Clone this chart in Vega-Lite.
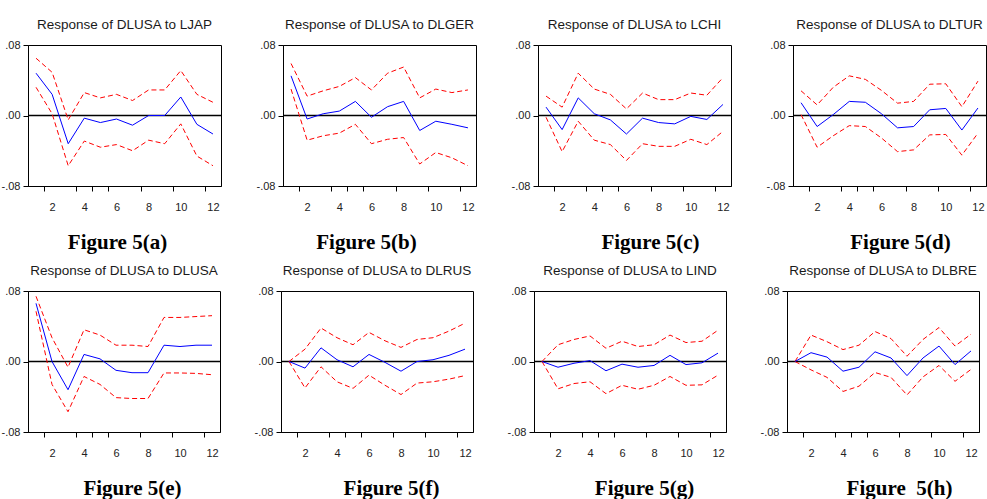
{
  "$schema": "https://vega.github.io/schema/vega-lite/v6.json",
  "background": "white",
  "padding": {"left": -4, "top": 17, "right": 0, "bottom": 0},
  "spacing": 10,
  "datasets": {
    "irf": [
      {"p":"a","t":1,"r":0.048,"hi":0.065,"lo":0.032},
      {"p":"a","t":2,"r":0.024,"hi":0.049,"lo":0.002},
      {"p":"a","t":3,"r":-0.032,"hi":-0.005,"lo":-0.057},
      {"p":"a","t":4,"r":-0.003,"hi":0.026,"lo":-0.029},
      {"p":"a","t":5,"r":-0.008,"hi":0.020,"lo":-0.036},
      {"p":"a","t":6,"r":-0.004,"hi":0.024,"lo":-0.033},
      {"p":"a","t":7,"r":-0.011,"hi":0.017,"lo":-0.040},
      {"p":"a","t":8,"r":0.0,"hi":0.029,"lo":-0.028},
      {"p":"a","t":9,"r":0.0,"hi":0.029,"lo":-0.032},
      {"p":"a","t":10,"r":0.021,"hi":0.051,"lo":-0.0095},
      {"p":"a","t":11,"r":-0.010,"hi":0.024,"lo":-0.046},
      {"p":"a","t":12,"r":-0.021,"hi":0.015,"lo":-0.057},

      {"p":"b","t":1,"r":0.045,"hi":0.059,"lo":0.030},
      {"p":"b","t":2,"r":-0.004,"hi":0.022,"lo":-0.028},
      {"p":"b","t":3,"r":0.002,"hi":0.028,"lo":-0.023},
      {"p":"b","t":4,"r":0.005,"hi":0.033,"lo":-0.020},
      {"p":"b","t":5,"r":0.016,"hi":0.043,"lo":-0.010},
      {"p":"b","t":6,"r":-0.002,"hi":0.029,"lo":-0.032},
      {"p":"b","t":7,"r":0.010,"hi":0.048,"lo":-0.027},
      {"p":"b","t":8,"r":0.016,"hi":0.055,"lo":-0.025},
      {"p":"b","t":9,"r":-0.017,"hi":0.020,"lo":-0.055},
      {"p":"b","t":10,"r":-0.0065,"hi":0.030,"lo":-0.042},
      {"p":"b","t":11,"r":-0.010,"hi":0.026,"lo":-0.048},
      {"p":"b","t":12,"r":-0.014,"hi":0.029,"lo":-0.057},

      {"p":"c","t":1,"r":0.0095,"hi":0.022,"lo":-0.002},
      {"p":"c","t":2,"r":-0.016,"hi":0.0095,"lo":-0.041},
      {"p":"c","t":3,"r":0.020,"hi":0.048,"lo":-0.0065},
      {"p":"c","t":4,"r":0.002,"hi":0.030,"lo":-0.028},
      {"p":"c","t":5,"r":-0.005,"hi":0.024,"lo":-0.033},
      {"p":"c","t":6,"r":-0.021,"hi":0.0075,"lo":-0.051},
      {"p":"c","t":7,"r":-0.003,"hi":0.0255,"lo":-0.032},
      {"p":"c","t":8,"r":-0.008,"hi":0.018,"lo":-0.035},
      {"p":"c","t":9,"r":-0.0095,"hi":0.018,"lo":-0.035},
      {"p":"c","t":10,"r":-0.001,"hi":0.0255,"lo":-0.027},
      {"p":"c","t":11,"r":-0.0045,"hi":0.023,"lo":-0.033},
      {"p":"c","t":12,"r":0.0125,"hi":0.043,"lo":-0.018},

      {"p":"d","t":1,"r":0.0145,"hi":0.028,"lo":0.001},
      {"p":"d","t":2,"r":-0.0125,"hi":0.012,"lo":-0.036},
      {"p":"d","t":3,"r":0.001,"hi":0.032,"lo":-0.023},
      {"p":"d","t":4,"r":0.016,"hi":0.045,"lo":-0.0115},
      {"p":"d","t":5,"r":0.015,"hi":0.041,"lo":-0.0125},
      {"p":"d","t":6,"r":0.002,"hi":0.0285,"lo":-0.0255},
      {"p":"d","t":7,"r":-0.014,"hi":0.014,"lo":-0.041},
      {"p":"d","t":8,"r":-0.0125,"hi":0.016,"lo":-0.039},
      {"p":"d","t":9,"r":0.0065,"hi":0.0355,"lo":-0.022},
      {"p":"d","t":10,"r":0.008,"hi":0.036,"lo":-0.0215},
      {"p":"d","t":11,"r":-0.0165,"hi":0.010,"lo":-0.045},
      {"p":"d","t":12,"r":0.0085,"hi":0.039,"lo":-0.020},

      {"p":"e","t":1,"r":0.066,"hi":0.074,"lo":0.057},
      {"p":"e","t":2,"r":0.0,"hi":0.027,"lo":-0.026},
      {"p":"e","t":3,"r":-0.032,"hi":-0.0065,"lo":-0.057},
      {"p":"e","t":4,"r":0.008,"hi":0.036,"lo":-0.017},
      {"p":"e","t":5,"r":0.003,"hi":0.030,"lo":-0.026},
      {"p":"e","t":6,"r":-0.010,"hi":0.0185,"lo":-0.041},
      {"p":"e","t":7,"r":-0.0127,"hi":0.0185,"lo":-0.042},
      {"p":"e","t":8,"r":-0.0127,"hi":0.017,"lo":-0.042},
      {"p":"e","t":9,"r":0.0185,"hi":0.050,"lo":-0.013},
      {"p":"e","t":10,"r":0.017,"hi":0.050,"lo":-0.013},
      {"p":"e","t":11,"r":0.0185,"hi":0.051,"lo":-0.0135},
      {"p":"e","t":12,"r":0.0185,"hi":0.052,"lo":-0.015},

      {"p":"f","t":1,"r":0.0,"hi":0.0,"lo":0.0},
      {"p":"f","t":2,"r":-0.0075,"hi":0.014,"lo":-0.030},
      {"p":"f","t":3,"r":0.0155,"hi":0.038,"lo":-0.006},
      {"p":"f","t":4,"r":0.002,"hi":0.027,"lo":-0.023},
      {"p":"f","t":5,"r":-0.006,"hi":0.019,"lo":-0.0305},
      {"p":"f","t":6,"r":0.008,"hi":0.033,"lo":-0.0155},
      {"p":"f","t":7,"r":-0.001,"hi":0.0235,"lo":-0.027},
      {"p":"f","t":8,"r":-0.011,"hi":0.016,"lo":-0.0375},
      {"p":"f","t":9,"r":0.0,"hi":0.025,"lo":-0.0245},
      {"p":"f","t":10,"r":0.002,"hi":0.027,"lo":-0.023},
      {"p":"f","t":11,"r":0.007,"hi":0.0345,"lo":-0.020},
      {"p":"f","t":12,"r":0.014,"hi":0.0435,"lo":-0.016},

      {"p":"g","t":1,"r":0.0,"hi":0.0,"lo":0.0},
      {"p":"g","t":2,"r":-0.0065,"hi":0.019,"lo":-0.031},
      {"p":"g","t":3,"r":-0.002,"hi":0.025,"lo":-0.025},
      {"p":"g","t":4,"r":0.001,"hi":0.029,"lo":-0.023},
      {"p":"g","t":5,"r":-0.0105,"hi":0.015,"lo":-0.0365},
      {"p":"g","t":6,"r":-0.003,"hi":0.023,"lo":-0.027},
      {"p":"g","t":7,"r":-0.0065,"hi":0.017,"lo":-0.0315},
      {"p":"g","t":8,"r":-0.0045,"hi":0.019,"lo":-0.027},
      {"p":"g","t":9,"r":0.007,"hi":0.030,"lo":-0.017},
      {"p":"g","t":10,"r":-0.0035,"hi":0.0215,"lo":-0.027},
      {"p":"g","t":11,"r":-0.0015,"hi":0.023,"lo":-0.0265},
      {"p":"g","t":12,"r":0.0095,"hi":0.0355,"lo":-0.0155},

      {"p":"h","t":1,"r":0.0,"hi":0.0,"lo":0.0},
      {"p":"h","t":2,"r":0.010,"hi":0.030,"lo":-0.0095},
      {"p":"h","t":3,"r":0.005,"hi":0.0225,"lo":-0.018},
      {"p":"h","t":4,"r":-0.011,"hi":0.0135,"lo":-0.034},
      {"p":"h","t":5,"r":-0.0065,"hi":0.0185,"lo":-0.028},
      {"p":"h","t":6,"r":0.011,"hi":0.034,"lo":-0.0125},
      {"p":"h","t":7,"r":0.004,"hi":0.026,"lo":-0.018},
      {"p":"h","t":8,"r":-0.016,"hi":0.006,"lo":-0.038},
      {"p":"h","t":9,"r":0.004,"hi":0.025,"lo":-0.0175},
      {"p":"h","t":10,"r":0.0175,"hi":0.0385,"lo":-0.0045},
      {"p":"h","t":11,"r":-0.0035,"hi":0.0175,"lo":-0.0225},
      {"p":"h","t":12,"r":0.012,"hi":0.031,"lo":-0.009}
    ]
  },
  "config": {
    "view": {"stroke": "black", "strokeWidth": 1},
    "title": {"font": "Liberation Sans", "fontSize": 13.5, "fontWeight": "normal", "color": "#1a1a1a", "baseline": "alphabetic", "offset": 8, "anchor": "middle"},
    "axis": {"grid": false, "domainColor": "black", "domainWidth": 1, "tickColor": "black", "tickWidth": 1, "tickSize": 5, "labelFont": "Liberation Sans", "labelFontSize": 11, "labelColor": "#222222"},
    "axisX": {"labelPadding": 10, "titleFont": "Liberation Serif", "titleFontSize": 21, "titleFontWeight": "bold", "titleColor": "black", "titlePadding": 19},
    "axisY": {"labelPadding": 3, "minExtent": 26, "maxExtent": 26}
  },
  "vconcat": [
    {
      "spacing": 32,
      "hconcat": [
        {
          "width": 193, "height": 141,
          "title": "Response of DLUSA to LJAP",
          "data": {"name": "irf"},
          "transform": [{"filter": "datum.p == 'a'"}],
          "encoding": {"x": {"field": "t", "type": "quantitative", "scale": {"domain": [0.5, 12.5], "nice": false, "zero": false}, "axis": {"values": [1.5,2,3.5,4,4.5,5.5,6,7.5,8,9.5,10,11.5,12], "labelExpr": "datum.value % 1 == 0 ? '' + datum.value : ''", "labelOverlap": false, "tickOpacity": {"condition": {"test": "datum.value % 1 == 0", "value": 0}, "value": 1}, "title": "Figure 5(a)", "titleX": 89}}},
          "layer": [
            {"transform": [{"filter": "datum.t == 1"}], "mark": {"type": "rule", "color": "black", "strokeWidth": 1.5}, "encoding": {"x": {"datum": 0.5, "type": "quantitative"}, "x2": {"datum": 12.5}, "y": {"datum": 0, "type": "quantitative", "scale": {"domain": [-0.08, 0.08], "nice": false, "zero": false}, "axis": {"values": [-0.08,-0.04,0,0.04,0.08], "labelExpr": "(datum.value < 0 ? '-' : '') + '.' + (abs(datum.value) < 0.001 ? '00' : '0' + round(abs(datum.value) * 100))", "title": null}}}},
            {"mark": {"type": "line", "color": "#ff0000", "strokeDash": [5, 3], "strokeWidth": 1}, "encoding": {"y": {"field": "hi", "type": "quantitative", "title": null}}},
            {"mark": {"type": "line", "color": "#ff0000", "strokeDash": [5, 3], "strokeWidth": 1}, "encoding": {"y": {"field": "lo", "type": "quantitative", "title": null}}},
            {"mark": {"type": "line", "color": "#0000ff", "strokeWidth": 1}, "encoding": {"y": {"field": "r", "type": "quantitative", "title": null}}}
          ]
        },
        {
          "width": 193, "height": 141,
          "title": "Response of DLUSA to DLGER",
          "data": {"name": "irf"},
          "transform": [{"filter": "datum.p == 'b'"}],
          "encoding": {"x": {"field": "t", "type": "quantitative", "scale": {"domain": [0.5, 12.5], "nice": false, "zero": false}, "axis": {"values": [1.5,2,3.5,4,4.5,5.5,6,7.5,8,9.5,10,11.5,12], "labelExpr": "datum.value % 1 == 0 ? '' + datum.value : ''", "labelOverlap": false, "tickOpacity": {"condition": {"test": "datum.value % 1 == 0", "value": 0}, "value": 1}, "title": "Figure 5(b)", "titleX": 83}}},
          "layer": [
            {"transform": [{"filter": "datum.t == 1"}], "mark": {"type": "rule", "color": "black", "strokeWidth": 1.5}, "encoding": {"x": {"datum": 0.5, "type": "quantitative"}, "x2": {"datum": 12.5}, "y": {"datum": 0, "type": "quantitative", "scale": {"domain": [-0.08, 0.08], "nice": false, "zero": false}, "axis": {"values": [-0.08,-0.04,0,0.04,0.08], "labelExpr": "(datum.value < 0 ? '-' : '') + '.' + (abs(datum.value) < 0.001 ? '00' : '0' + round(abs(datum.value) * 100))", "title": null}}}},
            {"mark": {"type": "line", "color": "#ff0000", "strokeDash": [5, 3], "strokeWidth": 1}, "encoding": {"y": {"field": "hi", "type": "quantitative", "title": null}}},
            {"mark": {"type": "line", "color": "#ff0000", "strokeDash": [5, 3], "strokeWidth": 1}, "encoding": {"y": {"field": "lo", "type": "quantitative", "title": null}}},
            {"mark": {"type": "line", "color": "#0000ff", "strokeWidth": 1}, "encoding": {"y": {"field": "r", "type": "quantitative", "title": null}}}
          ]
        },
        {
          "width": 193, "height": 141,
          "title": "Response of DLUSA to LCHI",
          "data": {"name": "irf"},
          "transform": [{"filter": "datum.p == 'c'"}],
          "encoding": {"x": {"field": "t", "type": "quantitative", "scale": {"domain": [0.5, 12.5], "nice": false, "zero": false}, "axis": {"values": [1.5,2,3.5,4,4.5,5.5,6,7.5,8,9.5,10,11.5,12], "labelExpr": "datum.value % 1 == 0 ? '' + datum.value : ''", "labelOverlap": false, "tickOpacity": {"condition": {"test": "datum.value % 1 == 0", "value": 0}, "value": 1}, "title": "Figure 5(c)", "titleX": 112}}},
          "layer": [
            {"transform": [{"filter": "datum.t == 1"}], "mark": {"type": "rule", "color": "black", "strokeWidth": 1.5}, "encoding": {"x": {"datum": 0.5, "type": "quantitative"}, "x2": {"datum": 12.5}, "y": {"datum": 0, "type": "quantitative", "scale": {"domain": [-0.08, 0.08], "nice": false, "zero": false}, "axis": {"values": [-0.08,-0.04,0,0.04,0.08], "labelExpr": "(datum.value < 0 ? '-' : '') + '.' + (abs(datum.value) < 0.001 ? '00' : '0' + round(abs(datum.value) * 100))", "title": null}}}},
            {"mark": {"type": "line", "color": "#ff0000", "strokeDash": [5, 3], "strokeWidth": 1}, "encoding": {"y": {"field": "hi", "type": "quantitative", "title": null}}},
            {"mark": {"type": "line", "color": "#ff0000", "strokeDash": [5, 3], "strokeWidth": 1}, "encoding": {"y": {"field": "lo", "type": "quantitative", "title": null}}},
            {"mark": {"type": "line", "color": "#0000ff", "strokeWidth": 1}, "encoding": {"y": {"field": "r", "type": "quantitative", "title": null}}}
          ]
        },
        {
          "width": 193, "height": 141,
          "title": "Response of DLUSA to DLTUR",
          "data": {"name": "irf"},
          "transform": [{"filter": "datum.p == 'd'"}],
          "encoding": {"x": {"field": "t", "type": "quantitative", "scale": {"domain": [0.5, 12.5], "nice": false, "zero": false}, "axis": {"values": [1.5,2,3.5,4,4.5,5.5,6,7.5,8,9.5,10,11.5,12], "labelExpr": "datum.value % 1 == 0 ? '' + datum.value : ''", "labelOverlap": false, "tickOpacity": {"condition": {"test": "datum.value % 1 == 0", "value": 0}, "value": 1}, "title": "Figure 5(d)", "titleX": 107}}},
          "layer": [
            {"transform": [{"filter": "datum.t == 1"}], "mark": {"type": "rule", "color": "black", "strokeWidth": 1.5}, "encoding": {"x": {"datum": 0.5, "type": "quantitative"}, "x2": {"datum": 12.5}, "y": {"datum": 0, "type": "quantitative", "scale": {"domain": [-0.08, 0.08], "nice": false, "zero": false}, "axis": {"values": [-0.08,-0.04,0,0.04,0.08], "labelExpr": "(datum.value < 0 ? '-' : '') + '.' + (abs(datum.value) < 0.001 ? '00' : '0' + round(abs(datum.value) * 100))", "title": null}}}},
            {"mark": {"type": "line", "color": "#ff0000", "strokeDash": [5, 3], "strokeWidth": 1}, "encoding": {"y": {"field": "hi", "type": "quantitative", "title": null}}},
            {"mark": {"type": "line", "color": "#ff0000", "strokeDash": [5, 3], "strokeWidth": 1}, "encoding": {"y": {"field": "lo", "type": "quantitative", "title": null}}},
            {"mark": {"type": "line", "color": "#0000ff", "strokeWidth": 1}, "encoding": {"y": {"field": "r", "type": "quantitative", "title": null}}}
          ]
        }
      ]
    },
    {
      "spacing": 31,
      "hconcat": [
        {
          "width": 192, "height": 141,
          "title": "Response of DLUSA to DLUSA",
          "data": {"name": "irf"},
          "transform": [{"filter": "datum.p == 'e'"}],
          "encoding": {"x": {"field": "t", "type": "quantitative", "scale": {"domain": [0.5, 12.5], "nice": false, "zero": false}, "axis": {"values": [1.5,2,3.5,4,4.5,5.5,6,7.5,8,9.5,10,11.5,12], "labelExpr": "datum.value % 1 == 0 ? '' + datum.value : ''", "labelOverlap": false, "tickOpacity": {"condition": {"test": "datum.value % 1 == 0", "value": 0}, "value": 1}, "title": "Figure 5(e)", "titleX": 104}}},
          "layer": [
            {"transform": [{"filter": "datum.t == 1"}], "mark": {"type": "rule", "color": "black", "strokeWidth": 1.5}, "encoding": {"x": {"datum": 0.5, "type": "quantitative"}, "x2": {"datum": 12.5}, "y": {"datum": 0, "type": "quantitative", "scale": {"domain": [-0.08, 0.08], "nice": false, "zero": false}, "axis": {"values": [-0.08,-0.04,0,0.04,0.08], "labelExpr": "(datum.value < 0 ? '-' : '') + '.' + (abs(datum.value) < 0.001 ? '00' : '0' + round(abs(datum.value) * 100))", "title": null, "minExtent": 31, "maxExtent": 31}}}},
            {"mark": {"type": "line", "color": "#ff0000", "strokeDash": [5, 3], "strokeWidth": 1}, "encoding": {"y": {"field": "hi", "type": "quantitative", "title": null}}},
            {"mark": {"type": "line", "color": "#ff0000", "strokeDash": [5, 3], "strokeWidth": 1}, "encoding": {"y": {"field": "lo", "type": "quantitative", "title": null}}},
            {"mark": {"type": "line", "color": "#0000ff", "strokeWidth": 1}, "encoding": {"y": {"field": "r", "type": "quantitative", "title": null}}}
          ]
        },
        {
          "width": 192, "height": 141,
          "title": "Response of DLUSA to DLRUS",
          "data": {"name": "irf"},
          "transform": [{"filter": "datum.p == 'f'"}],
          "encoding": {"x": {"field": "t", "type": "quantitative", "scale": {"domain": [0.5, 12.5], "nice": false, "zero": false}, "axis": {"values": [1.5,2,3.5,4,4.5,5.5,6,7.5,8,9.5,10,11.5,12], "labelExpr": "datum.value % 1 == 0 ? '' + datum.value : ''", "labelOverlap": false, "tickOpacity": {"condition": {"test": "datum.value % 1 == 0", "value": 0}, "value": 1}, "title": "Figure 5(f)", "titleX": 110}}},
          "layer": [
            {"transform": [{"filter": "datum.t == 1"}], "mark": {"type": "rule", "color": "black", "strokeWidth": 1.5}, "encoding": {"x": {"datum": 0.5, "type": "quantitative"}, "x2": {"datum": 12.5}, "y": {"datum": 0, "type": "quantitative", "scale": {"domain": [-0.08, 0.08], "nice": false, "zero": false}, "axis": {"values": [-0.08,-0.04,0,0.04,0.08], "labelExpr": "(datum.value < 0 ? '-' : '') + '.' + (abs(datum.value) < 0.001 ? '00' : '0' + round(abs(datum.value) * 100))", "title": null}}}},
            {"mark": {"type": "line", "color": "#ff0000", "strokeDash": [5, 3], "strokeWidth": 1}, "encoding": {"y": {"field": "hi", "type": "quantitative", "title": null}}},
            {"mark": {"type": "line", "color": "#ff0000", "strokeDash": [5, 3], "strokeWidth": 1}, "encoding": {"y": {"field": "lo", "type": "quantitative", "title": null}}},
            {"mark": {"type": "line", "color": "#0000ff", "strokeWidth": 1}, "encoding": {"y": {"field": "r", "type": "quantitative", "title": null}}}
          ]
        },
        {
          "width": 192, "height": 141,
          "title": "Response of DLUSA to LIND",
          "data": {"name": "irf"},
          "transform": [{"filter": "datum.p == 'g'"}],
          "encoding": {"x": {"field": "t", "type": "quantitative", "scale": {"domain": [0.5, 12.5], "nice": false, "zero": false}, "axis": {"values": [1.5,2,3.5,4,4.5,5.5,6,7.5,8,9.5,10,11.5,12], "labelExpr": "datum.value % 1 == 0 ? '' + datum.value : ''", "labelOverlap": false, "tickOpacity": {"condition": {"test": "datum.value % 1 == 0", "value": 0}, "value": 1}, "title": "Figure 5(g)", "titleX": 110}}},
          "layer": [
            {"transform": [{"filter": "datum.t == 1"}], "mark": {"type": "rule", "color": "black", "strokeWidth": 1.5}, "encoding": {"x": {"datum": 0.5, "type": "quantitative"}, "x2": {"datum": 12.5}, "y": {"datum": 0, "type": "quantitative", "scale": {"domain": [-0.08, 0.08], "nice": false, "zero": false}, "axis": {"values": [-0.08,-0.04,0,0.04,0.08], "labelExpr": "(datum.value < 0 ? '-' : '') + '.' + (abs(datum.value) < 0.001 ? '00' : '0' + round(abs(datum.value) * 100))", "title": null}}}},
            {"mark": {"type": "line", "color": "#ff0000", "strokeDash": [5, 3], "strokeWidth": 1}, "encoding": {"y": {"field": "hi", "type": "quantitative", "title": null}}},
            {"mark": {"type": "line", "color": "#ff0000", "strokeDash": [5, 3], "strokeWidth": 1}, "encoding": {"y": {"field": "lo", "type": "quantitative", "title": null}}},
            {"mark": {"type": "line", "color": "#0000ff", "strokeWidth": 1}, "encoding": {"y": {"field": "r", "type": "quantitative", "title": null}}}
          ]
        },
        {
          "width": 192, "height": 141,
          "title": "Response of DLUSA to DLBRE",
          "data": {"name": "irf"},
          "transform": [{"filter": "datum.p == 'h'"}],
          "encoding": {"x": {"field": "t", "type": "quantitative", "scale": {"domain": [0.5, 12.5], "nice": false, "zero": false}, "axis": {"values": [1.5,2,3.5,4,4.5,5.5,6,7.5,8,9.5,10,11.5,12], "labelExpr": "datum.value % 1 == 0 ? '' + datum.value : ''", "labelOverlap": false, "tickOpacity": {"condition": {"test": "datum.value % 1 == 0", "value": 0}, "value": 1}, "title": "Figure \u00a05(h)", "titleX": 112}}},
          "layer": [
            {"transform": [{"filter": "datum.t == 1"}], "mark": {"type": "rule", "color": "black", "strokeWidth": 1.5}, "encoding": {"x": {"datum": 0.5, "type": "quantitative"}, "x2": {"datum": 12.5}, "y": {"datum": 0, "type": "quantitative", "scale": {"domain": [-0.08, 0.08], "nice": false, "zero": false}, "axis": {"values": [-0.08,-0.04,0,0.04,0.08], "labelExpr": "(datum.value < 0 ? '-' : '') + '.' + (abs(datum.value) < 0.001 ? '00' : '0' + round(abs(datum.value) * 100))", "title": null}}}},
            {"mark": {"type": "line", "color": "#ff0000", "strokeDash": [5, 3], "strokeWidth": 1}, "encoding": {"y": {"field": "hi", "type": "quantitative", "title": null}}},
            {"mark": {"type": "line", "color": "#ff0000", "strokeDash": [5, 3], "strokeWidth": 1}, "encoding": {"y": {"field": "lo", "type": "quantitative", "title": null}}},
            {"mark": {"type": "line", "color": "#0000ff", "strokeWidth": 1}, "encoding": {"y": {"field": "r", "type": "quantitative", "title": null}}}
          ]
        }
      ]
    }
  ]
}
